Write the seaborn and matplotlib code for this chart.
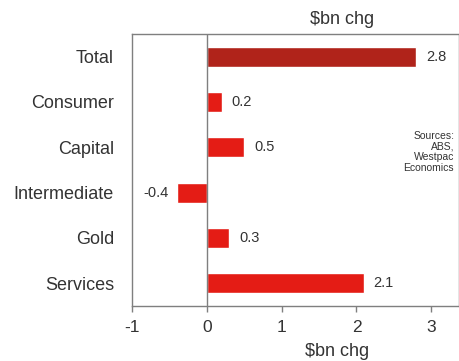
import matplotlib
matplotlib.use("Agg")
import matplotlib.pyplot as plt
import seaborn as sns
import pandas as pd

categories = ["Total", "Consumer", "Capital", "Intermediate", "Gold", "Services"]
values = [2.8, 0.2, 0.5, -0.4, 0.3, 2.1]
value_labels = ["2.8", "0.2", "0.5", "-0.4", "0.3", "2.1"]
x_ticks = [-1, 0, 1, 2, 3]

df = pd.DataFrame({"category": categories, "value": values})

sns.set_theme(style="white")
plt.rcParams["font.family"] = ["Liberation Sans", "DejaVu Sans"]

dark_red = "#B0231A"
bright_red = "#E41C15"
grey = "#7F7F7F"
text_col = "#333333"

fig = plt.figure(figsize=(4.6, 3.61), dpi=100)
ax = fig.add_axes([132 / 460, 1 - 306 / 361, (459 - 132) / 460, (306 - 34) / 361])

palette = [dark_red] + [bright_red] * (len(categories) - 1)
sns.barplot(data=df, x="value", y="category", hue="category", palette=palette,
            orient="h", width=0.44, legend=False, ax=ax, saturation=1)

ax.set_xlim(-1, 3.37)
ax.set_ylim(len(categories) - 0.5, -0.5)
ax.axvline(0, color=grey, lw=1, zorder=3)

for i, (v, lab) in enumerate(zip(values, value_labels)):
    if v >= 0:
        ax.annotate(lab, (v, i), xytext=(7, 0), textcoords="offset points",
                    ha="left", va="center", fontsize=10.5, color=text_col)
    else:
        ax.annotate(lab, (v, i), xytext=(-6, 0), textcoords="offset points",
                    ha="right", va="center", fontsize=10.5, color=text_col)

ax.set_xticks(x_ticks)
ax.set_xticklabels([str(t) for t in x_ticks], fontsize=12.5, color=text_col)
ax.tick_params(axis="x", direction="out", length=4, width=1, color=grey, pad=6, bottom=True)
ax.tick_params(axis="y", length=0, labelsize=13, labelcolor=text_col, pad=13)
ax.set_xlabel("")
ax.set_ylabel("")

for side in ["left", "right", "top", "bottom"]:
    ax.spines[side].set_color(grey)
    ax.spines[side].set_linewidth(1)

ax.text(0.985, 0.566, "Sources:\nABS,\nWestpac\nEconomics", transform=ax.transAxes,
        ha="right", va="center", fontsize=7.5, color=text_col, linespacing=1.1)

fig.text(342 / 460, 1 - 20 / 361, "$bn chg", ha="center", va="center",
         fontsize=13, color=text_col)
fig.text(337 / 460, 1 / 361, "$bn chg", ha="center", va="bottom",
         fontsize=13, color=text_col)

fig.savefig("out.png", dpi=100)
